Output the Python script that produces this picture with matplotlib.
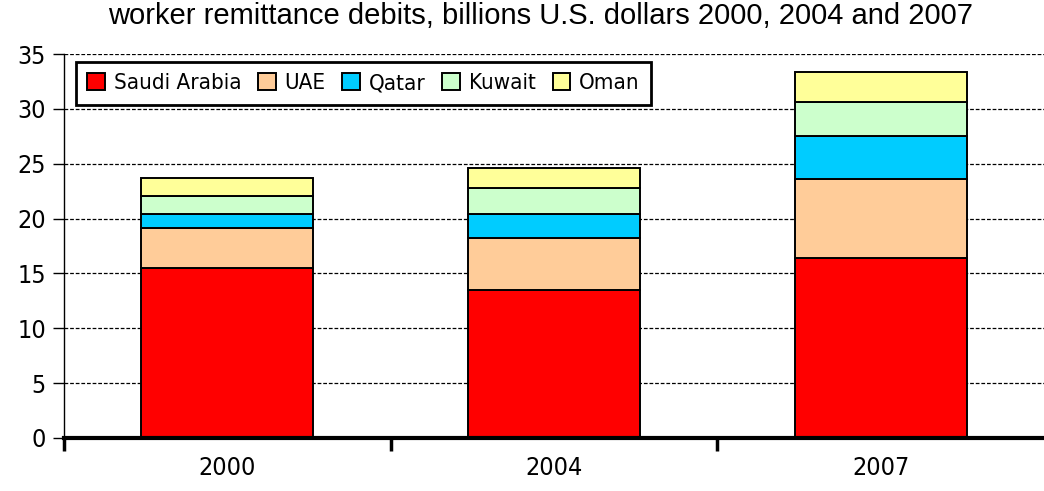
import numpy as np
import matplotlib.pyplot as plt

years = ["2000", "2004", "2007"]
countries = ["Saudi Arabia", "UAE", "Qatar", "Kuwait", "Oman"]
saudi = [15.5, 13.5, 16.4]
uae = [3.67, 4.77, 7.17]
qatar = [1.28, 2.19, 3.95]
kuwait = [1.64, 2.37, 3.10]
oman = [1.58, 1.79, 2.71]
colors = ["#ff0000", "#ffcc99", "#00ccff", "#ccffcc", "#ffff99"]

fig = plt.figure(figsize=(10.44, 4.91), dpi=100)
ax = fig.add_axes([0.0613, 0.108, 0.9387, 0.782])

x = np.arange(len(years))
bottom = np.zeros(len(years))
for name, vals, c in zip(countries, [saudi, uae, qatar, kuwait, oman], colors):
    ax.bar(x, vals, 0.526, bottom=bottom, color=c, edgecolor="black",
           linewidth=1.4, label=name, zorder=3)
    bottom += np.array(vals)

ax.set_xlim(-0.5, 2.5)
ax.set_ylim(0, 35)
ax.set_yticks(np.arange(0, 36, 5))
for v in range(5, 36, 5):
    ax.axhline(v, color="black", lw=0.9, ls=(0, (3, 1.5)), zorder=1)

ax.set_xticks(x)
ax.set_xticklabels(years)
ax.set_xticks([-0.5, 0.5, 1.5], minor=True)
ax.tick_params(axis="x", which="major", length=0, pad=13)
ax.tick_params(axis="x", which="minor", length=9, width=2.5, direction="out")
ax.tick_params(axis="y", length=8, width=1, pad=5)
for lab in ax.get_xticklabels() + ax.get_yticklabels():
    lab.set_family("DejaVu Sans")
    lab.set_stretch("condensed")
    lab.set_fontsize(18)

for s in ["top", "right"]:
    ax.spines[s].set_visible(False)
ax.spines["left"].set_linewidth(1)
ax.spines["bottom"].set_linewidth(3)
ax.spines["bottom"].set_zorder(5)

leg = ax.legend(ncol=5, loc="upper left", bbox_to_anchor=(0.012, 0.979),
                frameon=True, fancybox=False, edgecolor="black", framealpha=1,
                prop={"family": "DejaVu Sans", "stretch": "condensed", "size": 16},
                handlelength=0.8, handleheight=0.8, handletextpad=0.4,
                columnspacing=0.75, borderpad=0.5, borderaxespad=0)
leg.get_frame().set_linewidth(2)
leg.set_zorder(6)

fig.suptitle("worker remittance debits, billions U.S. dollars 2000, 2004 and 2007",
             x=0.518, y=0.995, fontsize=21, family="Liberation Sans")

fig.savefig("out.png", dpi=100)
